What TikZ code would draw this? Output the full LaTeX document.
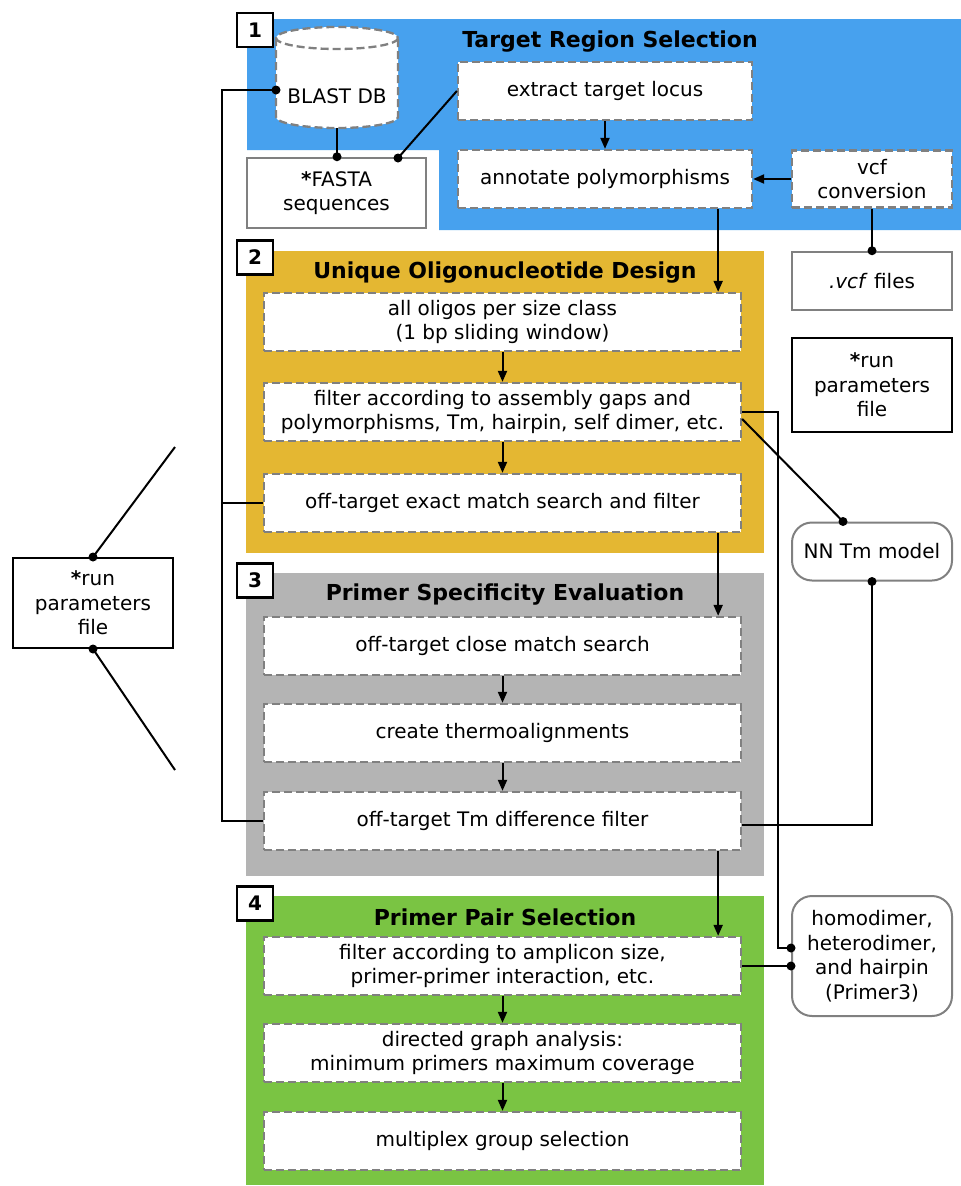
\documentclass[tikz,border=0pt]{standalone}
\usepackage{fontspec}
\setmainfont{DejaVu Sans}
\usetikzlibrary{arrows.meta}
\definecolor{blueR}{RGB}{71,161,238}
\definecolor{yellowR}{RGB}{228,183,50}
\definecolor{grayR}{RGB}{180,180,180}
\definecolor{greenR}{RGB}{122,196,67}
\definecolor{dashG}{RGB}{128,128,128}
\begin{document}
\begin{tikzpicture}[x=1pt,y=-1pt,
 font=\fontsize{20}{24.5}\selectfont,
 dbox/.style={draw=dashG, dash pattern=on 8pt off 4pt, line width=2.3pt, fill=white, align=center, inner sep=0pt},
 sbox/.style={draw=dashG, line width=2.5pt, fill=white, align=center, inner sep=0pt},
 kbox/.style={draw=black, line width=2pt, fill=white, align=center, inner sep=0pt},
 rbox/.style={draw=dashG, line width=2pt, rounded corners=20pt, fill=white, align=center, inner sep=0pt},
 numbox/.style={draw=black, line width=2.3pt, fill=white, font=\fontsize{20}{22}\selectfont\bfseries, minimum width=36pt, minimum height=34pt, inner sep=0pt},
 ttl/.style={font=\fontsize{22}{26}\selectfont\bfseries},
 arr/.style={-{Triangle[length=11pt,width=9pt]}, line width=2pt},
 con/.style={line width=2pt},
 dt/.style={fill=black}
]
\fill[white] (0,0) rectangle (961,1186);
\useasboundingbox (0,0) rectangle (961,1186);

% regions
\fill[blueR] (247,19) -- (961,19) -- (961,230) -- (439,230) -- (439,150) -- (247,150) -- cycle;
\fill[yellowR] (246,251) rectangle (764,553);
\fill[grayR] (246,573) rectangle (764,876);
\fill[greenR] (246,896) rectangle (764,1185);

% number boxes and titles
\node[numbox] (n1) at (255,30) {1};
\node[numbox] (n2) at (255,257.5) {2};
\node[numbox] (n3) at (255,580.5) {3};
\node[numbox] (n4) at (255,903.5) {4};
\node[ttl] (t1) at (610,42) {Target Region Selection};
\node[ttl] (t2) at (505,273) {Unique Oligonucleotide Design};
\node[ttl] (t3) at (505,595) {Primer Specificity Evaluation};
\node[ttl] (t4) at (505,917) {Primer Pair Selection};

% BLAST DB cylinder
\fill[white] (276,38) -- (276,117) arc[start angle=180,end angle=0,x radius=61,y radius=11] -- (398,38) arc[start angle=0,end angle=-180,x radius=61,y radius=11] -- cycle;
\draw[draw=dashG, dash pattern=on 8pt off 4pt, line width=2.3pt] (276,38) -- (276,117) arc[start angle=180,end angle=0,x radius=61,y radius=11] -- (398,38);
\draw[draw=dashG, dash pattern=on 8pt off 4pt, line width=2.3pt] (337,38) ellipse[x radius=61,y radius=11];
\node[minimum width=122pt, minimum height=101pt, inner sep=0pt] (blast) at (337,77.5) {};
\node (blasttxt) at (337,96) {BLAST DB};
\coordinate (blastL) at (276,90);

% stage 1 nodes
\node[dbox, minimum width=294pt, minimum height=58pt] (extract) at (605,91) {extract target locus};
\node[dbox, minimum width=294pt, minimum height=58pt] (annot) at (605,179) {annotate polymorphisms};
\node[dbox, minimum width=160pt, minimum height=57pt] (vcf) at (872,179) {vcf\\conversion};
\node[sbox, minimum width=179pt, minimum height=70pt] (fasta) at (336.5,193) {\textbf{*}FASTA\\sequences};
\coordinate (fastaR) at (398,158);
\node[sbox, minimum width=160pt, minimum height=58pt] (vcffiles) at (872,281) {\textit{.vcf} files};
\node[kbox, minimum width=160pt, minimum height=94pt] (runR) at (872,385) {\textbf{*}run\\parameters\\file};
\node[kbox, minimum width=160pt, minimum height=90pt] (runL) at (93,603) {\textbf{*}run\\parameters\\file};

% stage 2
\node[dbox, minimum width=477pt, minimum height=58pt] (all) at (502.5,322) {all oligos per size class\\(1 bp sliding window)};
\node[dbox, minimum width=477pt, minimum height=58pt] (filt) at (502.5,412) {filter according to assembly gaps and\\polymorphisms, Tm, hairpin, self dimer, etc.};
\node[dbox, minimum width=477pt, minimum height=58pt] (exact) at (502.5,503) {off-target exact match search and filter};

% stage 3
\node[dbox, minimum width=477pt, minimum height=58pt] (close) at (502.5,646) {off-target close match search};
\node[dbox, minimum width=477pt, minimum height=58pt] (thermo) at (502.5,733) {create thermoalignments};
\node[dbox, minimum width=477pt, minimum height=58pt] (tmdiff) at (502.5,821) {off-target Tm difference filter};

% stage 4
\node[dbox, minimum width=477pt, minimum height=58pt] (amp) at (502.5,966) {filter according to amplicon size,\\primer-primer interaction, etc.};
\node[dbox, minimum width=477pt, minimum height=58pt] (dag) at (502.5,1053) {directed graph analysis:\\minimum primers maximum coverage};
\node[dbox, minimum width=477pt, minimum height=58pt] (mux) at (502.5,1141) {multiplex group selection};

% side tools
\node[rbox, minimum width=160pt, minimum height=58pt] (nntm) at (872,551.5) {NN Tm model};
\node[rbox, minimum width=160pt, minimum height=120pt] (homo) at (872,956) {homodimer,\\heterodimer,\\and hairpin\\(Primer3)};

% connectors
\draw[con] (blastL) -- (222,90) |- (tmdiff.west);
\draw[con] (222,503) -- (exact.west);
\fill[dt] (blastL) circle (4.5pt);
\draw[con] (blast.south) -- (blast.south |- fasta.north);
\fill[dt] (blast.south |- fasta.north) circle (4.5pt);
\draw[con] (extract.west) -- (fastaR);
\fill[dt] (fastaR) circle (4.5pt);
\draw[arr] (extract.south) -- (annot.north);
\draw[arr] (vcf.west) -- (annot.east);
\draw[con] (vcf.south) -- (vcffiles.north);
\fill[dt] (vcffiles.north) circle (4.5pt);
\draw[arr] ([xshift=-24pt]all.north east |- annot.south) -- ([xshift=-24pt]all.north east);
\draw[arr] (all.south) -- (filt.north);
\draw[arr] (filt.south) -- (exact.north);
\draw[arr] ([xshift=-24pt]exact.south east) -- ([xshift=-24pt]close.north east);
\draw[arr] (close.south) -- (thermo.north);
\draw[arr] (thermo.south) -- (tmdiff.north);
\draw[arr] ([xshift=-24pt]tmdiff.south east) -- ([xshift=-24pt]amp.north east);
\draw[arr] (amp.south) -- (dag.north);
\draw[arr] (dag.south) -- (mux.north);

\draw[con] (filt.east) -- (filt.east -| 778,0) |- ([yshift=8pt]homo.west);
\fill[dt] ([yshift=8pt]homo.west) circle (4.5pt);
\draw[con] ([yshift=-7pt]filt.east) -- ([xshift=-29pt]nntm.north);
\fill[dt] ([xshift=-29pt]nntm.north) circle (4.5pt);
\draw[con] (nntm.south) |- ([yshift=-4pt]tmdiff.east);
\fill[dt] (nntm.south) circle (4.5pt);
\draw[con] (amp.east) -- (amp.east -| homo.west);
\fill[dt] (amp.east -| homo.west) circle (4.5pt);

\coordinate (freeA) at (175,447);
\coordinate (freeB) at (175,770);
\draw[con] (runL.north) -- (freeA);
\draw[con] (runL.south) -- (freeB);
\fill[dt] (runL.north) circle (4.5pt);
\fill[dt] (runL.south) circle (4.5pt);
\end{tikzpicture}
\end{document}
